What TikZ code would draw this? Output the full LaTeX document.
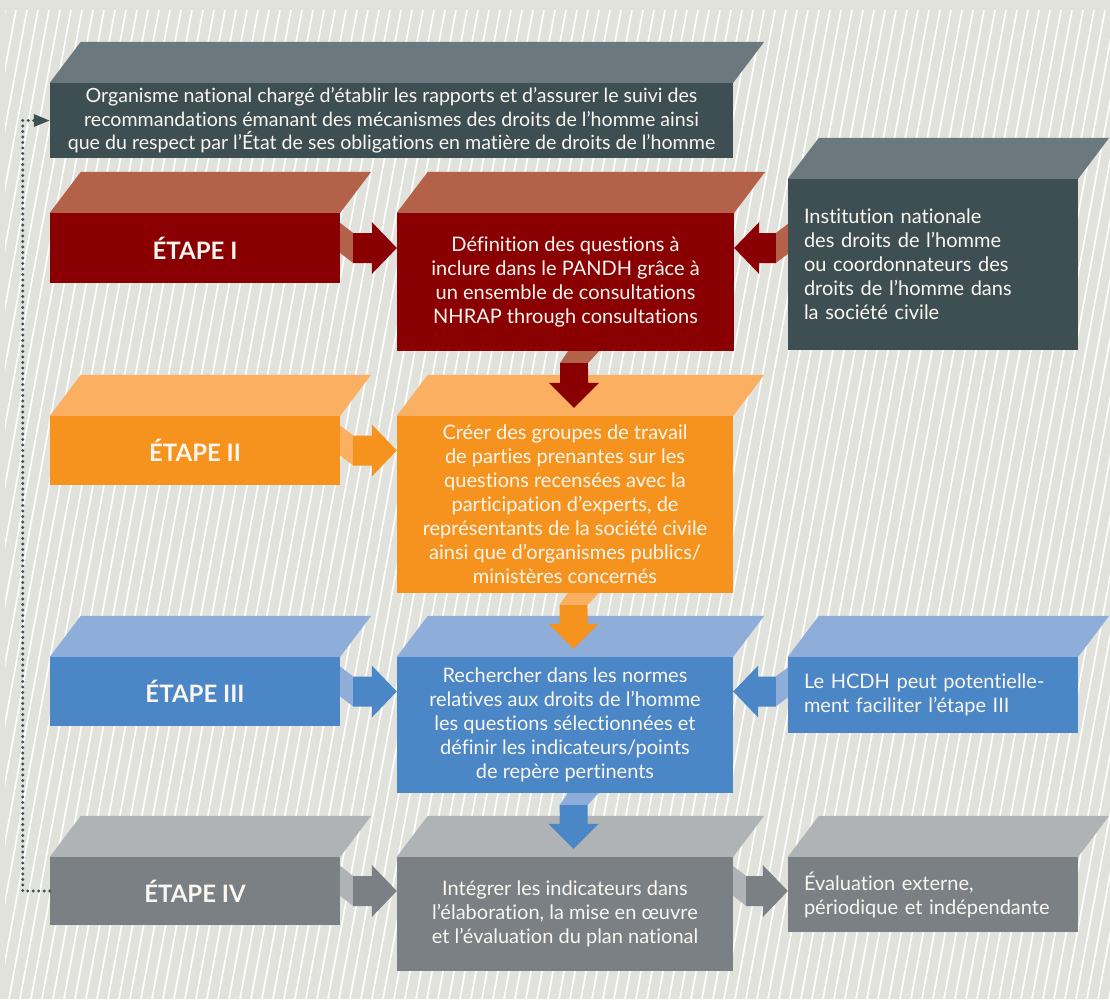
\documentclass[tikz,border=0pt]{standalone}
\usepackage{fontspec}
\setmainfont{Lato}[Ligatures=NoCommon]
\usetikzlibrary{calc,arrows.meta}
\definecolor{bgc}{HTML}{E2E2DD}
\definecolor{slateF}{HTML}{3E4F53}
\definecolor{slateT}{HTML}{6B797E}
\definecolor{redF}{HTML}{8A0002}
\definecolor{redT}{HTML}{B4614A}
\definecolor{orangeF}{HTML}{F6931E}
\definecolor{orangeT}{HTML}{FAB060}
\definecolor{blueF}{HTML}{4B87C6}
\definecolor{blueT}{HTML}{8FADD9}
\definecolor{grayF}{HTML}{7A8084}
\definecolor{grayT}{HTML}{B0B3B6}
\definecolor{txt}{HTML}{FBF7F0}
\newcommand\mytop[2]{\fill[#2] (#1.north west) -- ++(31,-41) -- ($(#1.north east)+(31,-41)$) -- (#1.north east) -- cycle;}
\newcommand\rightarr[5]{%
 \coordinate (S) at (#1.east |- #3.center);
 \coordinate (T) at (#2.west |- #3.center);
 \fill[#5] ($(S)+(0,-25)$) -- ($(S)+(13,-15)$) -- ($(S)+(13,15)$) -- ($(S)+(0,5)$) -- cycle;
 \fill[#4] ($(S)+(13,-15)$) -- ($(T)+(-25,-15)$) -- ($(T)+(-25,-26)$) -- (T) -- ($(T)+(-25,26)$) -- ($(T)+(-25,15)$) -- ($(S)+(13,15)$) -- cycle;}
\newcommand\leftarr[5]{%
 \coordinate (S) at (#1.west |- #3.center);
 \coordinate (T) at (#2.east |- #3.center);
 \fill[#5] ($(S)+(0,-24)$) -- ($(S)+(-12,-15)$) -- ($(S)+(-12,15)$) -- ($(S)+(0,6)$) -- cycle;
 \fill[#4] ($(S)+(-12,-15)$) -- ($(T)+(25,-15)$) -- ($(T)+(25,-26)$) -- (T) -- ($(T)+(25,26)$) -- ($(T)+(25,15)$) -- ($(S)+(-12,15)$) -- cycle;}
\newcommand\downarr[4]{%
 \coordinate (S) at ($(#1.south)+(8.5,0)$);
 \coordinate (T) at ($(S |- #2.north)+(0,-8)$);
 \fill[#4] ($(S)+(-6,0)$) -- ($(S)+(25,0)$) -- ($(S)+(14,12)$) -- ($(S)+(-14,12)$) -- cycle;
 \fill[#3] ($(S)+(-14,12)$) -- ($(S)+(14,12)$) -- ($(T)+(14,-25)$) -- ($(T)+(25,-25)$) -- (T) -- ($(T)+(-25,-25)$) -- ($(T)+(-14,-25)$) -- cycle;}
\begin{document}
\begin{tikzpicture}[x=1pt,y=-1pt,
  frontbox/.style={inner sep=0pt, text=txt, align=center, font=\fontsize{20}{24}\selectfont},
  stagebox/.style={inner sep=0pt, text=txt, font=\fontsize{24}{28}\selectfont\bfseries, minimum width=290pt},
  sidebox/.style={frontbox, align=left, text width=258pt, minimum width=290pt},
  dotline/.style={slateF, line width=3.2pt, dash pattern=on 0pt off 5.5pt, line cap=round}]
\fill[bgc] (0,0) rectangle (1110,999);
\begin{scope}
\clip (5,10) rectangle (1110,999);
\foreach \i in {0,...,120} \draw[white, line width=1.6pt] ({5+11*\i},10) -- ({5+11*\i-183},999);
\end{scope}
% boxes
\node[frontbox, font=\fontsize{19.6}{23.5}\selectfont, fill=slateF, minimum width=683pt, minimum height=75pt] (org) at (391.5,120.5)
 {Organisme national chargé d’établir les rapports et d’assurer le suivi des\\recommandations émanant des mécanismes des droits de l’homme ainsi\\que du respect par l’État de ses obligations en matière de droits de l’homme};
\mytop{org}{slateT}
\node[stagebox, fill=redF, minimum height=70pt] (e1) at (195,248) {ÉTAPE I};
\mytop{e1}{redT}
\node[frontbox, fill=redF, minimum width=337pt, minimum height=138pt] (def) at (565.5,282)
 {Définition des questions à\\inclure dans le PANDH grâce à\\un ensemble de consultations\\NHRAP through consultations};
\mytop{def}{redT}
\node[sidebox, fill=slateF, minimum height=171pt] (inst) at (933,264.5)
 {Institution nationale\\des droits de l’homme\\ou coordonnateurs des\\droits de l’homme dans\\la société civile};
\mytop{inst}{slateT}
\node[stagebox, fill=orangeF, minimum height=69pt] (e2) at (195,450.5) {ÉTAPE II};
\mytop{e2}{orangeT}
\node[frontbox, fill=orangeF, minimum width=336pt, minimum height=177pt] (cre) at (565,504.5)
 {Créer des groupes de travail\\de parties prenantes sur les\\questions recensées avec la\\participation d’experts, de\\représentants de la société civile\\ainsi que d’organismes publics/\\ministères concernés};
\mytop{cre}{orangeT}
\node[stagebox, fill=blueF, minimum height=69pt] (e3) at (195,691.5) {ÉTAPE III};
\mytop{e3}{blueT}
\node[frontbox, fill=blueF, minimum width=336pt, minimum height=136pt] (rech) at (565,725)
 {Rechercher dans les normes\\relatives aux droits de l’homme\\les questions sélectionnées et\\définir les indicateurs/points\\de repère pertinents};
\mytop{rech}{blueT}
\node[sidebox, fill=blueF, minimum height=76pt] (hcdh) at (933,695)
 {Le HCDH peut potentielle-\\ment faciliter l’étape III};
\mytop{hcdh}{blueT}
\node[stagebox, fill=grayF, minimum height=68pt] (e4) at (195,891) {ÉTAPE IV};
\mytop{e4}{grayT}
\node[frontbox, fill=grayF, minimum width=336pt, minimum height=114pt] (integ) at (565,914)
 {Intégrer les indicateurs dans\\l’élaboration, la mise en œuvre\\et l’évaluation du plan national};
\mytop{integ}{grayT}
\node[sidebox, fill=grayF, minimum height=75pt] (eval) at (933,894.5)
 {Évaluation externe,\\périodique et indépendante};
\mytop{eval}{grayT}
% arrows
\rightarr{e1}{def}{e1}{redF}{redT}
\leftarr{inst}{def}{e1}{redF}{redT}
\rightarr{e2}{cre}{e2}{orangeF}{orangeT}
\rightarr{e3}{rech}{e3}{blueF}{blueT}
\leftarr{hcdh}{rech}{e3}{blueF}{blueT}
\rightarr{e4}{integ}{e4}{grayF}{grayT}
\rightarr{integ}{eval}{e4}{grayF}{grayT}
\downarr{def}{cre}{redF}{redT}
\downarr{cre}{rech}{orangeF}{orangeT}
\downarr{rech}{integ}{blueF}{blueT}
% feedback dotted connector
\coordinate (fb) at ($(e4.west)+(-27,0)$);
\draw[dotline, -{Triangle[length=16pt,width=12pt]}] (e4.west) -- (fb) |- (org.west);
\end{tikzpicture}
\end{document}
